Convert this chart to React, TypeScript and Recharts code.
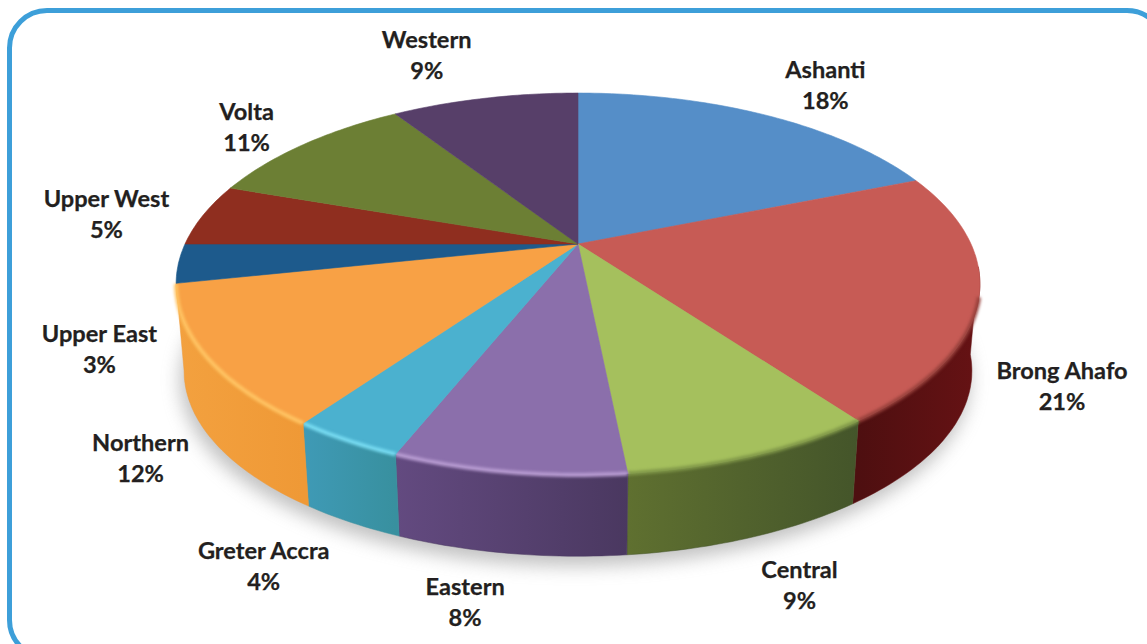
import { PieChart, Pie } from "recharts";

const regions = ["Ashanti", "Brong Ahafo", "Central", "Eastern", "Greter Accra", "Northern", "Upper East", "Upper West", "Volta", "Western"];
// slice sizes as read from the drawn wedges, the printed labels are rounded differently
const shares = [18.9, 21.0, 8.5, 7.7, 3.75, 11.85, 3.3, 5.3, 10.5, 9.2];
const percentLabels = ["18%", "21%", "9%", "8%", "4%", "12%", "3%", "5%", "11%", "9%"];

const topColors = ["#558ec8", "#c75b55", "#a5c05d", "#8b6fab", "#4bb1cf", "#f8a145", "#1d5a8c", "#8f2e1f", "#6c7f34", "#573f69"];
const wallLeft = ["#3d6690", "#4e0f10", "#5f7030", "#634a80", "#3f9ab6", "#f3a13f", "#17466e", "#6e2317", "#556428", "#43304f"];
const wallRight = ["#3d6690", "#661214", "#44552a", "#4a3860", "#38909f", "#ef9936", "#17466e", "#6e2317", "#556428", "#43304f"];
const rimColors = ["", "#96403b", "#7f9648", "#b89cd2", "#78dcf2", "#ffc463", "", "", "", ""];

// label centre relative to the rim point of each slice's middle
const labelOffsets = [[60, -30], [83, 89], [46, 129], [-43, 130], [-83, 126], [-66, 101], [-79, 86], [-97, -1], [-57, -17], [-58, -43]];

const tableData = regions.map((name, i) => ({ name, share: shares[i], fill: topColors[i] }));

const TILT = 0.4646;
const PERSPECTIVE = 0.2095;
const ELLIPSE_CY = 284;

// degrees clockwise from 12 o'clock onto the tilted disc
function rimPoint(cx: number, cy: number, r: number, theta: number) {
  const t = (theta * Math.PI) / 180;
  const d = 1 + PERSPECTIVE * Math.cos(t);
  return { x: cx + (r * Math.sin(t)) / d, y: cy - (r * TILT * Math.cos(t)) / d };
}

function bottomPoint(p: { x: number; y: number }, cx: number) {
  return { x: cx + 0.98 * (p.x - cx), y: ELLIPSE_CY + 87 + 0.97 * (p.y - ELLIPSE_CY) };
}

function arcPoints(cx: number, cy: number, r: number, from: number, to: number) {
  const pts = [];
  const steps = Math.max(2, Math.ceil(to - from));
  for (let k = 0; k <= steps; k++) pts.push(rimPoint(cx, cy, r, from + ((to - from) * k) / steps));
  return pts;
}

const toPath = (pts: { x: number; y: number }[]) => pts.map((p, k) => `${k ? "L" : "M"}${p.x.toFixed(1)} ${p.y.toFixed(1)}`).join(" ");

function Slice3D(props: any) {
  const { cx, cy, outerRadius, startAngle, endAngle, fill } = props;
  const i = regions.indexOf(props.name);
  const from = 90 - startAngle;
  const to = 90 - endAngle;
  const top = arcPoints(cx, cy, outerRadius, from, to);

  const wallFrom = Math.max(from, 97);
  const wallTo = Math.min(to, 258);
  const hasWall = wallTo > wallFrom;
  const front = hasWall ? arcPoints(cx, cy, outerRadius, wallFrom, wallTo) : [];
  const under = front.map((p) => bottomPoint(p, cx)).reverse();
  const rim = hasWall ? arcPoints(cx, cy, outerRadius, Math.max(from, 106), wallTo) : [];

  return (
    <g>
      {hasWall && (
        <>
          <linearGradient id={`wall-${i}`} gradientUnits="userSpaceOnUse" x1={front[front.length - 1].x} x2={front[0].x} y1="0" y2="0">
            <stop offset="0" stopColor={wallLeft[i]} />
            <stop offset="1" stopColor={wallRight[i]} />
          </linearGradient>
          <path d={`${toPath(front)} ${toPath(under).replace("M", "L")} Z`} fill={`url(#wall-${i})`} stroke={wallRight[i]} strokeWidth={0.5} />
        </>
      )}
      <path d={`M${cx} ${cy} ${toPath(top).replace("M", "L")} Z`} fill={fill} stroke={fill} strokeWidth={0.6} />
      {hasWall && (
        <path d={toPath(rim)} fill="none" stroke={rimColors[i]} strokeWidth={4} style={{ filter: "blur(1.5px)" }} />
      )}
    </g>
  );
}

function SliceLabel(props: any) {
  const { cx, cy, outerRadius, midAngle, index } = props;
  const p = rimPoint(cx, cy, outerRadius, 90 - midAngle);
  const x = p.x + labelOffsets[index][0];
  const y = p.y + labelOffsets[index][1];
  return (
    <text x={x} textAnchor="middle" fill="#231f20" stroke="#231f20" strokeWidth={0.25} fontFamily="Lato, sans-serif" fontWeight={700} fontSize={23.6}>
      <tspan x={x} y={y - 7}>{regions[index]}</tspan>
      <tspan x={x} y={y + 24}>{percentLabels[index]}</tspan>
    </text>
  );
}

export default function App() {
  return (
    <div style={{ position: "absolute", left: 0, top: 0, width: 1147, height: 644, overflow: "hidden", background: "#fff" }}>
      <div style={{ position: "absolute", left: 7, top: 8, width: 1150, height: 642, border: "5px solid #3d9fd9", borderRadius: 40 }} />
      <svg width={1147} height={644} style={{ position: "absolute", left: 0, top: 0 }}>
        <ellipse cx={575} cy={380} rx={395} ry={186} fill="#8f8f8f" opacity={0.55} style={{ filter: "blur(9px)" }} />
      </svg>
      <div style={{ position: "absolute", left: 0, top: 0 }}>
        <PieChart width={1147} height={644} margin={{ top: 0, right: 0, bottom: 0, left: 0 }}>
          <Pie
            data={tableData}
            dataKey="share"
            nameKey="name"
            cx={578}
            cy={244}
            outerRadius={393}
            startAngle={90}
            endAngle={-270}
            stroke="none"
            shape={Slice3D}
            label={SliceLabel}
            labelLine={false}
            isAnimationActive={false}
          />
        </PieChart>
      </div>
    </div>
  );
}
